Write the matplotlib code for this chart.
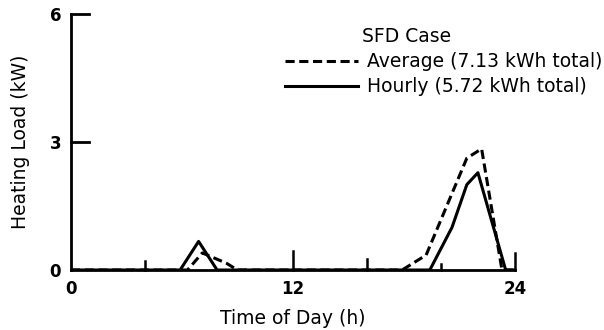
import numpy as np
import matplotlib
matplotlib.use("Agg")
from matplotlib import pyplot as plt

avg_hours = [0, 6.3, 7.1, 8.4, 9.0, 17.9, 19.2, 21.4, 22.2, 23.3, 24]
avg_load = [0, 0, 0.4, 0.16, 0, 0, 0.35, 2.62, 2.84, 0, 0]
hourly_hours = [0, 5.9, 6.9, 7.9, 19.4, 20.6, 21.4, 22.0, 23.5, 24]
hourly_load = [0, 0, 0.67, 0, 0, 1.0, 2.0, 2.28, 0, 0]

x_labels = [0, 12, 24]
y_labels = [0, 3, 6]

plt.rcParams['font.family'] = ['DejaVu Sans']

fig = plt.figure(figsize=(6.04, 3.3), dpi=100)
ax = fig.add_axes([0.1175, 0.1818, 0.735, 0.776])

ax.plot(avg_hours, avg_load, color='black', lw=2.2, linestyle=(0, (3, 1.5)),
        label='Average (7.13 kWh total)')
ax.plot(hourly_hours, hourly_load, color='black', lw=2.2,
        label='Hourly (5.72 kWh total)')

ax.set_xlim(0, 24)
ax.set_ylim(0, 6)
ax.spines['top'].set_visible(False)
ax.spines['right'].set_visible(False)
ax.spines['left'].set_linewidth(2.0)
ax.spines['bottom'].set_linewidth(2.0)

ax.set_xticks(x_labels)
ax.set_yticks(y_labels)
ax.tick_params(direction='in', length=0, labelsize=12, pad=7)
for lbl in ax.get_xticklabels() + ax.get_yticklabels():
    lbl.set_fontweight('bold')

# inward tick marks as in the scan
for h, tl in [(4, 0.2), (12, 0.45), (16, 0.25), (20, 0.15), (24, 0.4)]:
    ax.plot([h, h], [0, tl], color='black', lw=1.8, clip_on=False)
for v in [3, 6]:
    ax.plot([0, 0.95], [v, v], color='black', lw=2.0, clip_on=False)

ax.set_xlabel('Time of Day (h)', fontsize=13.5, labelpad=8)
ax.set_ylabel('Heating Load (kW)', fontsize=13.5, labelpad=14)

leg = ax.legend(title='SFD Case', loc='upper left',
                bbox_to_anchor=(285 / 604, 1 - 27 / 330),
                bbox_transform=fig.transFigure,
                frameon=False, fontsize=13.5, title_fontsize=13.5,
                handlelength=3.9, handletextpad=0.45, labelspacing=0.33,
                borderpad=0, borderaxespad=0)
leg._legend_box.align = 'left'
leg.get_title().set_position((77, 0))

fig.savefig('out.png', dpi=100)
